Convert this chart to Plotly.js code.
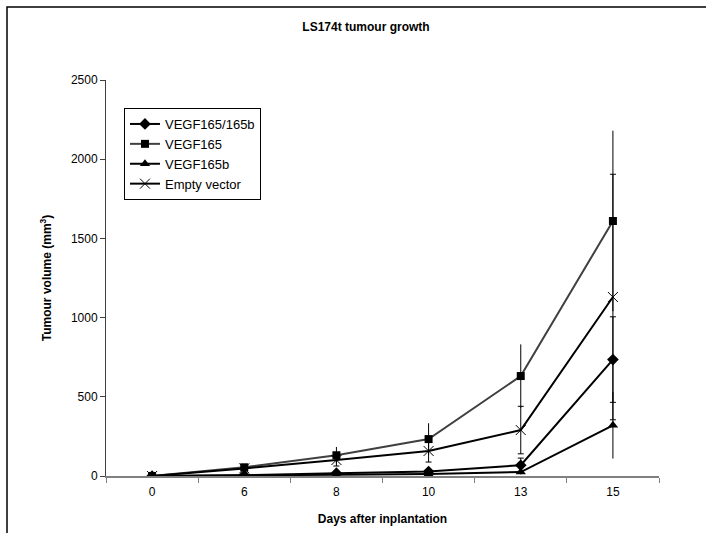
<!DOCTYPE html>
<html>
<head>
<meta charset="utf-8">
<script src="https://cdn.plot.ly/plotly-3.0.1.min.js"></script>
<style>html,body{margin:0;padding:0;background:#fff;}#chart{width:706px;height:533px;}</style>
</head>
<body>
<div id="chart"></div>
<script>
const days = ['0', '6', '8', '10', '13', '15'];

const vegf165_165b = [0, 5, 18, 28, 68, 735];
const vegf165_165b_err = [0, 3, 6, 10, 45, 270];

const vegf165 = [0, 55, 131, 233, 631, 1610];
const vegf165_err = [0, 15, 52, 100, 200, 570];

const vegf165b = [0, 2, 8, 12, 25, 320];
const vegf165b_err = [0, 2, 4, 6, 15, 210];

const emptyVector = [0, 48, 101, 158, 290, 1130];
const emptyVector_err = [0, 15, 38, 70, 150, 775];

const seriesNames = ['VEGF165/165b', 'VEGF165', 'VEGF165b', 'Empty vector'];

const traces = [
  {
    x: days, y: vegf165_165b, name: seriesNames[0], type: 'scatter', mode: 'lines+markers',
    line: {color: '#000000', width: 2},
    marker: {symbol: 'diamond', size: 9, color: '#000000'},
    error_y: {type: 'data', array: vegf165_165b_err, visible: true, color: '#000000', thickness: 1, width: 3}
  },
  {
    x: days, y: vegf165, name: seriesNames[1], type: 'scatter', mode: 'lines+markers',
    line: {color: '#404040', width: 2},
    marker: {symbol: 'square', size: 8, color: '#000000'},
    error_y: {type: 'data', array: vegf165_err, visible: true, color: '#000000', thickness: 1, width: 0}
  },
  {
    x: days, y: vegf165b, name: seriesNames[2], type: 'scatter', mode: 'lines+markers',
    line: {color: '#000000', width: 2},
    marker: {symbol: 'triangle-up', size: 9, color: '#000000'},
    error_y: {type: 'data', array: vegf165b_err, visible: true, color: '#000000', thickness: 1, width: 0}
  },
  {
    x: days, y: emptyVector, name: seriesNames[3], type: 'scatter', mode: 'lines+markers',
    line: {color: '#000000', width: 2},
    marker: {symbol: 'x-thin', size: 10, color: '#000000', line: {width: 1, color: '#000000'}},
    error_y: {type: 'data', array: emptyVector_err, visible: true, color: '#000000', thickness: 1, width: 3}
  }
];

const fam = 'Liberation Sans, Arial, sans-serif';

const layout = {
  width: 706, height: 533,
  margin: {l: 106, r: 47, t: 80, b: 57, pad: 0},
  paper_bgcolor: '#ffffff', plot_bgcolor: '#ffffff',
  font: {family: fam, size: 12, color: '#000000'},
  showlegend: true,
  title: {
    text: '<b>LS174t tumour growth</b>',
    font: {family: fam, size: 12, color: '#000'},
    x: (366 - 106) / 553, xref: 'paper', xanchor: 'center',
    y: 1 - 27 / 533, yref: 'container', yanchor: 'middle'
  },
  xaxis: {
    type: 'category', range: [-0.5, 5.5],
    tickson: 'boundaries', ticks: 'outside', ticklen: 5, tickcolor: '#808080', tickwidth: 1,
    ticklabelstandoff: 4,
    showline: true, linecolor: '#808080', linewidth: 1.5,
    showgrid: false, zeroline: false,
    tickfont: {family: fam, size: 12, color: '#000'},
    title: {text: '<b>Days after inplantation</b>', font: {family: fam, size: 12, color: '#000'}, standoff: 16},
    fixedrange: true
  },
  yaxis: {
    range: [0, 2500], tickvals: [0, 500, 1000, 1500, 2000, 2500],
    ticks: 'outside', ticklen: 5, tickcolor: '#404040', tickwidth: 1,
    showline: true, linecolor: '#404040', linewidth: 1,
    showgrid: false, zeroline: false,
    tickfont: {family: fam, size: 12, color: '#000'},
    title: {text: '<b>Tumour volume (mm<sup>3</sup>)</b>', font: {family: fam, size: 12, color: '#000'}, standoff: 16},
    fixedrange: true
  },
  legend: {
    x: 0.0325, xanchor: 'left', y: (476 - 200) / 396, yanchor: 'bottom',
    bgcolor: '#ffffff', bordercolor: '#000000', borderwidth: 1,
    font: {family: fam, size: 13, color: '#000'},
    tracegroupgap: 0
  },
  shapes: [
    {type: 'rect', xref: 'paper', yref: 'paper',
     x0: (7 - 106) / 553, x1: (760 - 106) / 553,
     y0: (476 - 560) / 396, y1: (476 - 7) / 396,
     line: {color: '#000000', width: 1.5}, fillcolor: 'rgba(0,0,0,0)', layer: 'below'}
  ]
};

Plotly.newPlot('chart', traces, layout, {displayModeBar: false, staticPlot: true});
</script>
</body>
</html>
